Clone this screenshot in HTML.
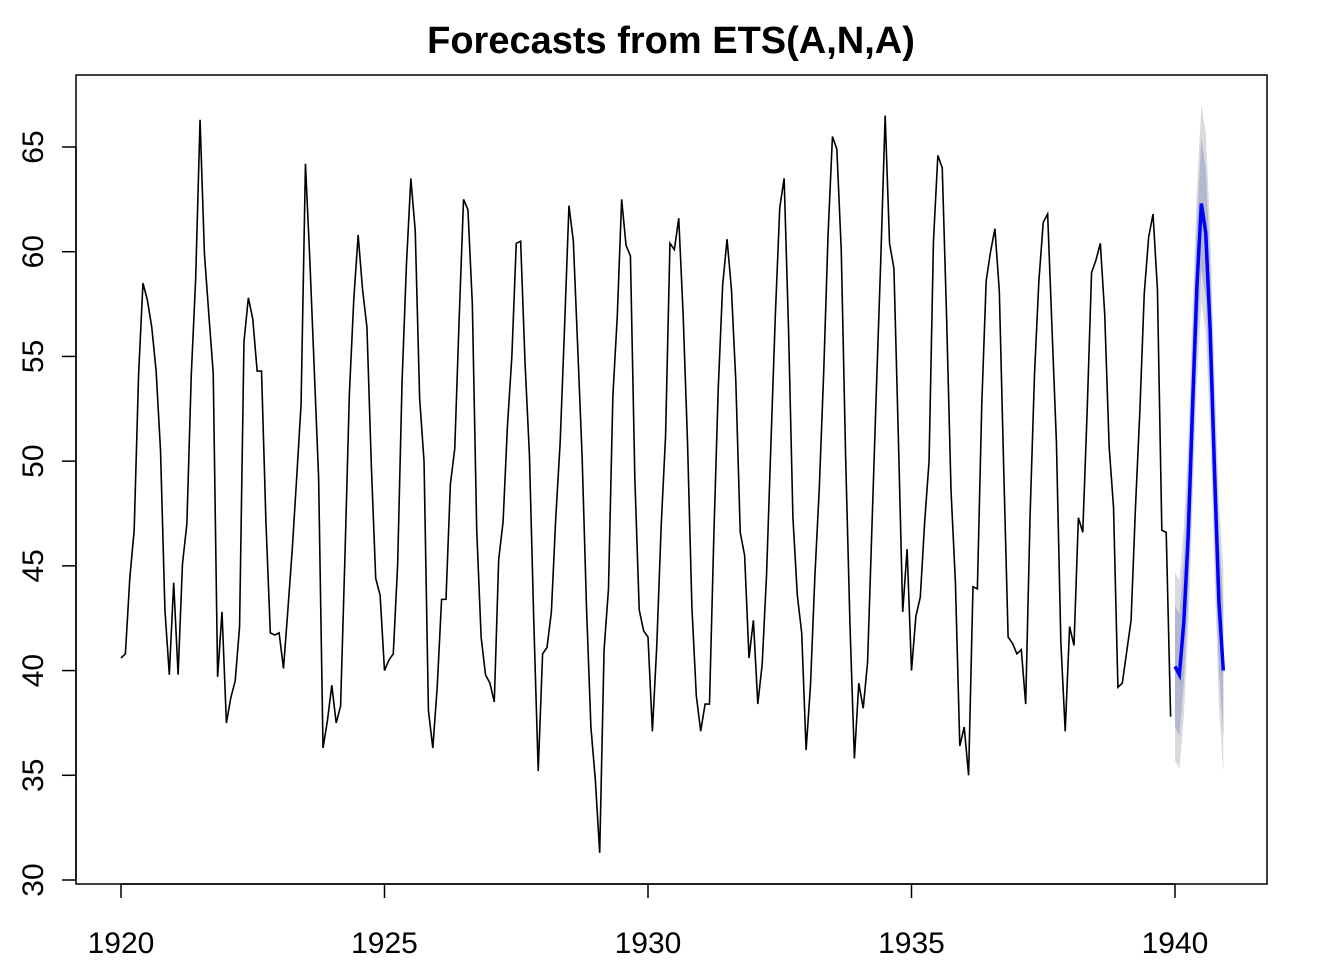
<!DOCTYPE html>
<html><head><meta charset="utf-8"><style>
html,body{margin:0;padding:0;background:#fff;}
svg{display:block;font-family:"Liberation Sans",Arial,sans-serif;}
</style></head><body>
<svg id="chart" width="1344" height="960">
<text x="671" y="53" text-anchor="middle" font-size="38" font-weight="bold">Forecasts from ETS(A,N,A)</text>
<rect x="76" y="75" width="1191" height="809" fill="none" stroke="#000" stroke-width="1.5"/>
<g id="xaxis"></g>
<g id="yaxis"></g>
<g id="bands"></g>
<g id="lines"></g>
</svg>
<script>
const history = [
40.6,40.8,44.4,46.7,54.1,58.5,57.7,56.4,54.3,50.5,42.9,39.8,
44.2,39.8,45.1,47.0,54.1,58.7,66.3,59.9,57.0,54.2,39.7,42.8,
37.5,38.7,39.5,42.1,55.7,57.8,56.8,54.3,54.3,47.1,41.8,41.7,
41.8,40.1,42.9,45.8,49.2,52.7,64.2,59.6,54.4,49.2,36.3,37.6,
39.3,37.5,38.3,45.5,53.2,57.7,60.8,58.2,56.4,49.8,44.4,43.6,
40.0,40.5,40.8,45.1,53.8,59.4,63.5,61.0,53.0,50.0,38.1,36.3,
39.2,43.4,43.4,48.9,50.6,56.8,62.5,62.0,57.5,46.7,41.6,39.8,
39.4,38.5,45.3,47.1,51.7,55.0,60.4,60.5,54.7,50.3,42.3,35.2,
40.8,41.1,42.8,47.3,50.9,56.4,62.2,60.5,55.4,50.2,43.0,37.3,
34.8,31.3,41.0,43.9,53.1,56.9,62.5,60.3,59.8,49.2,42.9,41.9,
41.6,37.1,41.2,46.9,51.2,60.4,60.1,61.6,57.0,50.9,43.0,38.8,
37.1,38.4,38.4,46.5,53.5,58.4,60.6,58.2,53.8,46.6,45.5,40.6,
42.4,38.4,40.3,44.6,50.9,57.0,62.1,63.5,56.3,47.3,43.6,41.8,
36.2,39.3,44.5,48.7,54.2,60.8,65.5,64.9,60.1,50.2,42.1,35.8,
39.4,38.2,40.4,46.9,53.4,59.6,66.5,60.4,59.2,51.2,42.8,45.8,
40.0,42.6,43.5,47.1,50.0,60.5,64.6,64.0,56.8,48.6,44.2,36.4,
37.3,35.0,44.0,43.9,52.7,58.6,60.0,61.1,58.1,49.6,41.6,41.3,
40.8,41.0,38.4,47.4,54.1,58.6,61.4,61.8,56.3,50.9,41.4,37.1,
42.1,41.2,47.3,46.6,52.4,59.0,59.6,60.4,57.0,50.7,47.8,39.2,
39.4,40.9,42.4,47.8,52.4,58.0,60.7,61.8,58.2,46.7,46.6,37.8];
const forecast = [40.2,39.8,42.3,46.4,52.6,58.4,62.3,60.9,56.3,49.5,43.3,40.0];
const lo80 = [37.3,36.9,39.4,43.4,49.6,55.4,59.2,57.8,53.2,46.4,40.1,36.8];
const hi80 = [43.1,42.7,45.2,49.4,55.6,61.4,65.4,64.0,59.4,52.6,46.5,43.2];
const lo95 = [35.7,35.3,37.8,41.8,48.0,53.8,57.6,56.1,51.5,44.7,38.4,35.1];
const hi95 = [44.7,44.3,46.8,51.0,57.2,63.0,67.0,65.7,61.1,54.3,48.2,44.9];
const xTicks = [1920,1925,1930,1935,1940];
const yTicks = [30,35,40,45,50,55,60,65];
const startYear = 1920, fcStart = 1940;

const NS="http://www.w3.org/2000/svg";
const X = t => 121 + (t-1920)*(1175-121)/20;
const Y = v => 880 - (v-30)*(880-147)/35;
function mk(tag,attrs,parent){const e=document.createElementNS(NS,tag);for(const k in attrs)e.setAttribute(k,attrs[k]);document.getElementById(parent).appendChild(e);return e;}

xTicks.forEach(t=>{
  const l=mk('line',{x1:X(t),x2:X(t),y1:884,y2:898,stroke:'#000','stroke-width':1.5},'xaxis');
  
  
  const tx=mk('text',{x:X(t),y:953,'text-anchor':'middle','font-size':30},'xaxis');
  tx.textContent=t;
  
  
});
mk('line',{x1:X(1920),x2:X(1940),y1:884,y2:884,stroke:'#000','stroke-width':1.5},'xaxis');
yTicks.forEach(v=>{
  const l=mk('line',{x1:62,x2:76,y1:Y(v),y2:Y(v),stroke:'#000','stroke-width':1.5},'yaxis');
  
  
  const tx=mk('text',{x:0,y:0,'text-anchor':'middle','font-size':30,transform:`translate(43,${Y(v)}) rotate(-90)`},'yaxis');
  tx.textContent=v;
  
  
});
mk('line',{x1:76,x2:76,y1:Y(30),y2:Y(65),stroke:'#000','stroke-width':1.5},'yaxis');

function band(lo,hi,color,name){
  const pts=[];
  lo.forEach((v,i)=>pts.push(X(fcStart+i/12)+','+Y(v)));
  for(let i=hi.length-1;i>=0;i--)pts.push(X(fcStart+i/12)+','+Y(hi[i]));
  const p=mk('polygon',{points:pts.join(' '),fill:color},'bands');
  
  
}
band(lo95,hi95,'#DADADF','interval-95');
band(lo80,hi80,'#B3B7CF','interval-80');

const hp=mk('polyline',{points:history.map((v,i)=>X(startYear+i/12)+','+Y(v)).join(' '),fill:'none',stroke:'#000','stroke-width':1.6},'lines');


const fp=mk('polyline',{points:forecast.map((v,i)=>X(fcStart+i/12)+','+Y(v)).join(' '),fill:'none',stroke:'#0000FF','stroke-width':3.5},'lines');


</script>
</body></html>
